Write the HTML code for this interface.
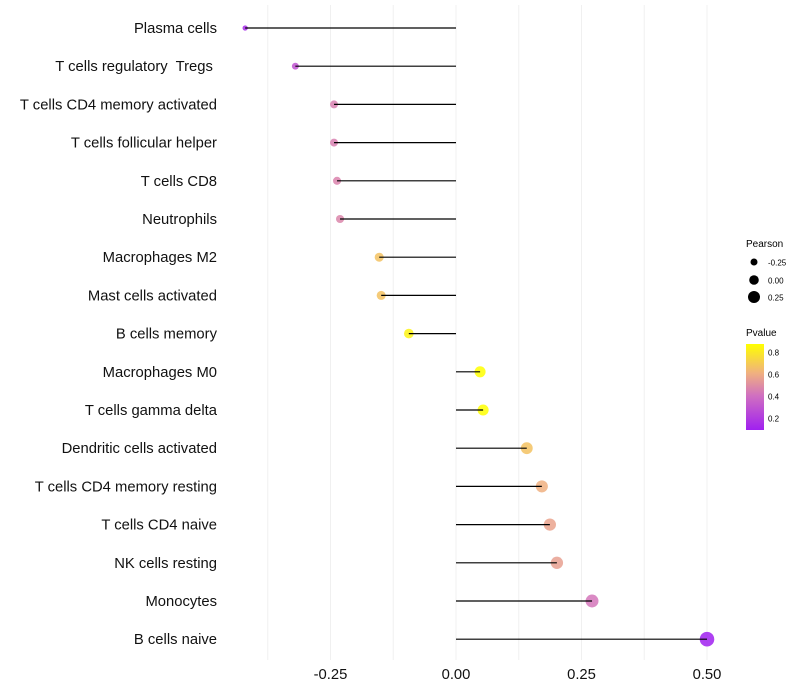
<!DOCTYPE html>
<html><head><meta charset="utf-8"><style>
body{margin:0;background:#fff;}
svg{display:block;font-family:"Liberation Sans",sans-serif;}
</style></head><body>
<svg id="chart" width="800" height="700">
<defs>
<linearGradient id="pgrad" x1="0" y1="1" x2="0" y2="0">
<stop offset="0" stop-color="#a020f0"/>
<stop offset="0.4" stop-color="#d070c0"/>
<stop offset="0.66" stop-color="#f0b080"/>
<stop offset="1" stop-color="#ffff00"/>
</linearGradient>
</defs>
<g id="grid"></g>
<g id="marks"></g>
<g id="ylabels"></g>
<g id="xlabels"></g>
<g>
<text x="746" y="247" font-size="10">Pearson</text>
<circle cx="754" cy="262" r="3.5" fill="#000"/>
<text x="768" y="265.5" font-size="8">-0.25</text>
<circle cx="754" cy="280" r="4.8" fill="#000"/>
<text x="768" y="283.5" font-size="8">0.00</text>
<circle cx="754" cy="297" r="6" fill="#000"/>
<text x="768" y="300.5" font-size="8">0.25</text>
</g>
<g>
<text x="746" y="336" font-size="10">Pvalue</text>
<rect x="746" y="344" width="18" height="86" fill="url(#pgrad)"/>
<text x="768" y="355.5" font-size="8">0.8</text>
<text x="768" y="377.5" font-size="8">0.6</text>
<text x="768" y="399.5" font-size="8">0.4</text>
<text x="768" y="421.5" font-size="8">0.2</text>
</g>
</svg>
<script>
const categories=["Plasma cells","T cells regulatory  Tregs\u00a0","T cells CD4 memory activated","T cells follicular helper","T cells CD8","Neutrophils","Macrophages M2","Mast cells activated","B cells memory","Macrophages M0","T cells gamma delta","Dendritic cells activated","T cells CD4 memory resting","T cells CD4 naive","NK cells resting","Monocytes","B cells naive"];
const pearson=[-0.42,-0.32,-0.243,-0.243,-0.237,-0.231,-0.153,-0.149,-0.094,0.048,0.054,0.141,0.171,0.187,0.201,0.271,0.5];
const pvalues=[0.15,0.3,0.45,0.45,0.46,0.47,0.66,0.66,0.82,0.9,0.9,0.66,0.6,0.56,0.55,0.42,0.1];
const xTicks=[-0.25,0,0.25,0.5];
const xTickLabels=["-0.25","0.00","0.25","0.50"];
const NS="http://www.w3.org/2000/svg";
function xs(v){return 456+v*502;}
function ys(i){return 28+i*38.2;}
function rs(v){return Math.sqrt(Math.max(4,28+50*v));}
function lerp(a,b,t){return a.map((x,k)=>Math.round(x+(b[k]-x)*t));}
function col(p){
 const stops=[[0.11,[160,32,240]],[0.4,[208,112,192]],[0.6,[240,176,128]],[0.86,[255,255,0]]];
 if(p<=stops[0][0])return "rgb("+stops[0][1]+")";
 for(let k=1;k<stops.length;k++){if(p<=stops[k][0]){const t=(p-stops[k-1][0])/(stops[k][0]-stops[k-1][0]);return "rgb("+lerp(stops[k-1][1],stops[k][1],t)+")";}}
 return "rgb(255,255,0)";
}
function mk(tag,attrs,parent){const e=document.createElementNS(NS,tag);for(const k in attrs)e.setAttribute(k,attrs[k]);parent.appendChild(e);return e;}
const grid=document.getElementById('grid'),marks=document.getElementById('marks'),yl=document.getElementById('ylabels'),xl=document.getElementById('xlabels');
for(let g=-0.375;g<=0.5001;g+=0.125){
 const l=mk('line',{x1:xs(g),x2:xs(g),y1:5,y2:660,stroke:'#f0f0f0','stroke-width':1},grid);
 
 
}
categories.forEach((c,i)=>{
 const y=ys(i);
 const pt=mk('circle',{cx:xs(pearson[i]),cy:y,r:rs(pearson[i]),fill:col(pvalues[i]),'fill-opacity':0.85},marks);
 
 
 const ln=mk('line',{x1:xs(0),x2:xs(pearson[i]),y1:y,y2:y,stroke:'#000','stroke-width':1.2},marks);
 
 
 const t=mk('text',{x:217,y:y+5,'font-size':14.8,'text-anchor':'end',fill:'#111'},yl);
 t.setAttribute('xml:space','preserve');
 t.style.whiteSpace='pre';
 t.textContent=c;
 
 
});
xTicks.forEach((v,i)=>{
 const t=mk('text',{x:xs(v),y:679,'font-size':14.8,'text-anchor':'middle',fill:'#111'},xl);
 t.textContent=xTickLabels[i];
 
 
});
</script>
</body></html>
